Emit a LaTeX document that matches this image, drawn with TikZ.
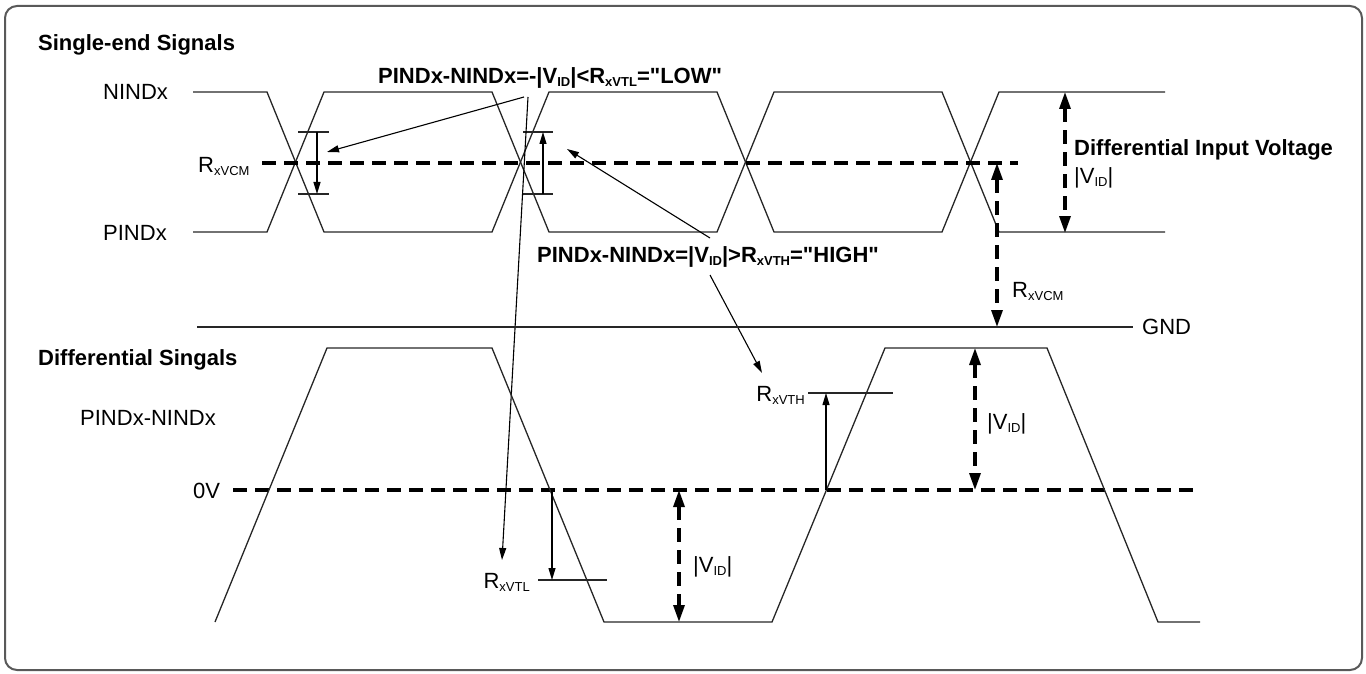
\documentclass[tikz,border=0pt]{standalone}
\usepackage{fontspec}
\setmainfont{Liberation Sans}[Ligatures=TeXOff]
\usetikzlibrary{arrows.meta}
\newcommand{\lowtxt}[1]{\raisebox{-3pt}{\fontsize{13}{13}\selectfont #1}}
\tikzset{
  sig/.style={line width=1.3pt, draw=black!85},
  thickdash/.style={line width=3.2pt, dash pattern=on 14pt off 8pt},
  dimarrow/.style={thickdash, {Triangle[length=17pt,width=11pt]}-{Triangle[length=17pt,width=11pt]}},
  pointer/.style={line width=1.1pt, -{Triangle[length=12pt,width=7pt]}},
  lbl/.style={inner sep=0pt, font=\fontsize{22}{26}\selectfont},
  blbl/.style={inner sep=0pt, font=\bfseries\fontsize{22}{26}\selectfont},
}
\begin{document}
\begin{tikzpicture}[x=1pt,y=-1pt]
\useasboundingbox (0,0) rectangle (1366,674);
\draw[line width=2pt, draw=black!65, rounded corners=12pt] (5,6) rectangle (1362,670);

% ---------- single-end signals ----------
\node[blbl, anchor=west] (t1) at (38,45) {Single-end Signals};
\node[lbl, anchor=west] (nind) at (103,92) {NINDx};
\node[lbl, anchor=west] (pind) at (103,233) {PINDx};
\node[lbl, anchor=west] (vcm) at (198,166) {R\lowtxt{xVCM}};

\draw[sig] (193,92) -- (267,92) -- (324,232) -- (492,232) -- (549,92) -- (717,92) -- (774,232) -- (942,232) -- (999,92) -- (1165,92);
\draw[sig] (193,232) -- (267,232) -- (324,92) -- (492,92) -- (549,232) -- (717,232) -- (774,92) -- (942,92) -- (999,232) -- (1165,232);
\draw[thickdash] (262,163) -- (1018,163);

% measurement bars
\draw[sig] (298,132) -- (329,132);
\draw[sig] (298,194) -- (329,194);
\draw[pointer] (317,132) -- (317,194);
\draw[sig] (523,132) -- (553,132);
\draw[sig] (523,194) -- (553,194);
\draw[pointer] (543,194) -- (543,132);

% annotations
\node[blbl, anchor=west] (low) at (378,78) {PINDx-NINDx=-|V\lowtxt{ID}|<R\lowtxt{xVTL}="LOW"};
\node[blbl, anchor=west] (high) at (537,257) {PINDx-NINDx=|V\lowtxt{ID}|>R\lowtxt{xVTH}="HIGH"};
\coordinate (lowA) at (524,97);
\coordinate (lowB) at (528,97);
\coordinate (lowT1) at (327,152);
\coordinate (lowT2) at (502,560);
\coordinate (highA) at (710,238);
\coordinate (highT1) at (567,149);
\coordinate (highB) at (710,275);
\coordinate (highT2) at (762,373);
\draw[pointer] (lowA) -- (lowT1);
\draw[pointer] (lowB) -- (lowT2);
\draw[pointer] (highA) -- (highT1);
\draw[pointer] (highB) -- (highT2);

% right side dimensions
\draw[dimarrow] (1065,92) -- (1065,233);
\node[blbl, anchor=west] (div) at (1074,150) {Differential Input Voltage};
\node[lbl, anchor=west] (vid1) at (1074,178) {|V\lowtxt{ID}|};
\draw[dimarrow] (997,163) -- (997,327);
\node[lbl, anchor=west] (vcm2) at (1012,291) {R\lowtxt{xVCM}};

% GND
\draw[sig] (197,327) -- (1133,327);
\node[lbl, anchor=west] (gnd) at (1142,327) {GND};

% ---------- differential signals ----------
\node[blbl, anchor=west] (t2) at (38,360) {Differential Singals};
\node[lbl, anchor=west] (pn) at (80,418) {PINDx-NINDx};
\node[lbl, anchor=west] (zv) at (193,491) {0V};
\draw[thickdash] (233,490) -- (1198,490);
\draw[sig] (215,622) -- (327,348) -- (492,348) -- (604,622) -- (772,622) -- (885,348) -- (1047,348) -- (1158,622) -- (1200,622);

% thresholds
\draw[sig] (538,580) -- (607,580);
\draw[pointer] (552,490) -- (552,580);
\node[lbl, anchor=east] (vtl) at (530,582) {R\lowtxt{xVTL}};
\draw[sig] (808,393) -- (893,393);
\draw[pointer] (826,490) -- (826,393);
\node[lbl, anchor=east] (vth) at (805,395) {R\lowtxt{xVTH}};

% |VID| arrows
\draw[dimarrow] (679,490) -- (679,622);
\node[lbl, anchor=west] (vid2) at (693,567) {|V\lowtxt{ID}|};
\draw[dimarrow] (975,348) -- (975,490);
\node[lbl, anchor=west] (vid3) at (987,424) {|V\lowtxt{ID}|};
\end{tikzpicture}
\end{document}
